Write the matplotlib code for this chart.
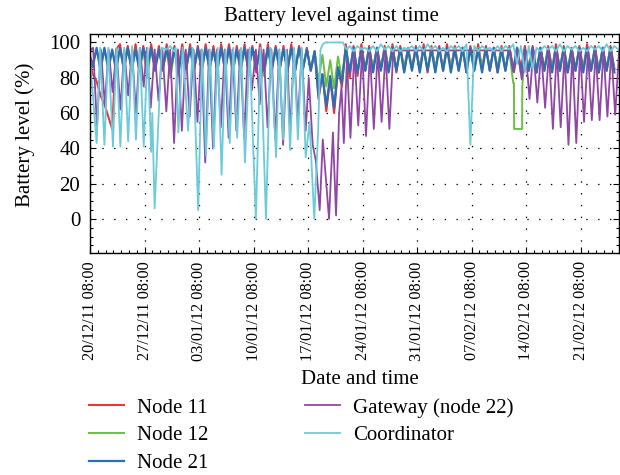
import matplotlib
matplotlib.use("Agg")
import matplotlib.pyplot as plt
import matplotlib.dates as mdates
from matplotlib.ticker import FixedLocator, MultipleLocator
from datetime import datetime, timedelta
import numpy as np

plt.rcParams['font.family'] = ['Liberation Serif', 'DejaVu Serif']
plt.rcParams['lines.scale_dashes'] = False

START = datetime(2011, 12, 20, 8, 0)
WEEK_TICK_DAYS = [0, 7, 14, 21, 28, 35, 42, 49, 56, 63]
X_END_DAY = 67.94

series_labels = ["Node 11", "Node 12", "Node 21", "Gateway (node 22)", "Coordinator"]
series_colors = ["#ee3333", "#6cbf45", "#2a6fb5", "#9146a5", "#6ccbd9"]

# ---- Node 11 (red): daily high (d-0.15) and low (d+0.35), days 0..67
node11_hi = [90, 78, 65, 51, 99, 98, 99, 98, 99, 98,
             99, 98, 99, 99, 98, 99, 98, 99, 99, 98,
             99, 98, 99, 99, 98, 98, 99, 98, 97, 95,
             82, 80, 85, 99, 98, 99, 98, 97, 98, 99,
             98, 97, 98, 99, 98, 98, 99, 98, 97, 98,
             99, 98, 97, 98, 98, 97, 98, 98, 97, 98,
             99, 98, 97, 98, 99, 98, 97, 98]
node11_lo = [82, 70, 58, 96, 84, 85, 84, 83, 85, 84,
             83, 84, 85, 84, 83, 85, 84, 84, 83, 85,
             84, 83, 84, 85, 84, 83, 84, 85, 84, 68,
             61, 60, 75, 80, 81, 84, 84, 85, 84, 83,
             84, 85, 84, 83, 84, 84, 85, 84, 83, 84,
             85, 84, 83, 84, 84, 85, 84, 83, 84, 85,
             84, 83, 84, 85, 84, 83, 84, 85]

# ---- Node 12 (green)
node12_hi = [93, 96, 96, 95, 96, 97, 96, 95, 96, 96,
             95, 96, 96, 97, 96, 96, 95, 96, 96, 96,
             97, 96, 95, 96, 96, 96, 97, 96, 96, 95,
             93, 90, 92, 97, 96, 97, 96, 96, 97, 96,
             96, 97, 96, 96, 97, 96, 96, 97, 96, 96,
             97, 96, 96, 97, 96, 97, 96, 96, 97, 96,
             96, 97, 96, 96, 97, 96, 96, 97]
node12_lo = [88, 86, 85, 87, 86, 85, 86, 80, 86, 85,
             80, 81, 86, 85, 86, 85, 86, 85, 82, 86,
             85, 86, 81, 86, 85, 86, 85, 86, 85, 78,
             75, 74, 80, 84, 83, 85, 86, 85, 86, 85,
             86, 85, 86, 85, 86, 85, 86, 85, 86, 85,
             86, 85, 86, 85, 77, 85, 86, 85, 86, 85,
             86, 85, 86, 85, 86, 85, 86, 85]
# Node 12 step drop (flat segment) in mid February
node12_gap_t = [54.45, 54.47, 55.50, 55.52]
node12_gap_v = [77, 51, 51, 75]

# ---- Node 21 (blue)
node21_hi = [95, 97, 97, 96, 97, 97, 96, 97, 97, 96,
             97, 97, 96, 97, 97, 97, 96, 97, 97, 96,
             97, 97, 96, 97, 97, 96, 97, 97, 96, 95,
             82, 81, 86, 97, 97, 96, 97, 97, 96, 97,
             97, 96, 97, 97, 96, 97, 97, 96, 97, 97,
             96, 97, 97, 96, 97, 97, 96, 97, 97, 96,
             97, 97, 96, 97, 97, 96, 97, 97]
node21_lo = [86, 84, 85, 84, 85, 84, 84, 85, 84, 85,
             84, 83, 85, 84, 84, 85, 84, 84, 85, 84,
             84, 85, 84, 84, 85, 84, 84, 85, 84, 70,
             64, 63, 77, 83, 83, 84, 83, 84, 83, 84,
             83, 84, 83, 84, 83, 84, 83, 84, 83, 84,
             83, 84, 83, 84, 84, 83, 84, 83, 84, 83,
             84, 83, 84, 83, 84, 83, 84, 83]

# ---- Coordinator (cyan): irregular first part (time in days, value)
coord_t1 = [-0.1, 0.85, 1.3, 1.85, 2.35, 2.95, 3.4, 3.9, 4.4, 4.9,
            5.4, 5.9, 6.4, 6.9, 7.4, 7.85, 8.0, 8.3, 9.2, 9.8,
            10.3, 10.8, 11.0, 11.35, 11.9, 12.6, 13.2, 13.9, 14.4, 14.9,
            15.4, 15.9, 16.4, 16.9, 17.4, 17.95, 18.4, 18.9, 19.4, 19.9,
            20.5, 21.3, 21.9, 22.6, 23.2, 23.9, 24.3, 24.8, 25.2, 25.7,
            26.2, 26.7, 27.2, 27.7, 28.2, 28.8, 29.3, 29.6, 29.9, 30.2,
            32.5, 32.8, 33.0]
coord_v1 = [97, 43, 97, 42, 97, 41, 97, 41, 97, 44,
            98, 45, 97, 41, 97, 38, 60, 6, 97, 96,
            98, 95, 97, 49, 97, 50, 97, 5, 96, 36,
            96, 40, 97, 25, 96, 43, 97, 46, 97, 32,
            97, 0, 97, 0, 97, 35, 96, 45, 96, 39,
            97, 45, 97, 35, 55, 0, 50, 96, 99, 100,
            100, 97, 96]
# Coordinator regular second part: days 33..67, high (d+0.35), low (d+0.85)
coord_hi2 = [98, 98, 97, 98, 99, 98, 98, 97, 98, 98,
             99, 98, 97, 98, 98, 99, 98, 98, 97, 98,
             98, 99, 98, 98, 97, 98, 98, 99, 98, 98,
             97, 98, 98, 99, 98]
coord_lo2 = [95, 96, 95, 95, 96, 95, 95, 96, 95, 95,
             96, 95, 95, 96, 95, 42, 95, 96, 95, 95,
             96, 88, 83, 85, 95, 96, 95, 95, 96, 95,
             95, 96, 95, 95, 96]

# ---- Gateway (purple): irregular first part
gw_t1 = [-0.1, 0.4, 0.9, 1.4, 1.9, 2.4, 2.9, 3.4, 3.9, 4.4,
         4.9, 5.4, 5.9, 6.4, 6.9, 7.3, 7.8, 8.3, 8.8, 9.3,
         9.8, 10.3, 10.8, 11.3, 11.8, 12.3, 12.8, 13.3, 13.8, 14.3,
         14.8, 15.3, 15.8, 16.3, 16.8, 17.3, 17.8, 18.3, 18.8, 19.3,
         19.8, 20.3, 20.8, 21.3, 21.8, 22.3, 22.8, 23.3, 23.8, 24.3,
         24.8, 25.3, 25.7, 26.2, 26.7, 27.2, 27.7, 28.1, 28.6, 29.0,
         29.5, 29.9, 30.7, 31.2, 31.6, 32.0, 32.3, 32.6, 33.0]
gw_v1 = [95, 97, 52, 96, 65, 96, 72, 96, 62, 96,
         70, 96, 60, 97, 75, 97, 63, 96, 67, 96,
         61, 96, 43, 96, 50, 96, 58, 96, 55, 96,
         32, 96, 40, 96, 52, 96, 46, 96, 50, 96,
         46, 96, 73, 96, 65, 96, 52, 96, 45, 96,
         42, 96, 49, 96, 55, 96, 50, 80, 42, 33,
         5, 45, 0, 49, 2, 60, 75, 43, 90]
# Gateway regular second part: days 33..67, low (d+0.45), high (d+0.95)
gw_lo2 = [46, 53, 47, 51, 55, 51, 95.5, 95.5, 95.5, 95.5,
          95.5, 95.5, 95.5, 95.5, 95.5, 95.5, 95.5, 95.5, 95.5, 95.5,
          95.5, 83, 79, 68, 66, 63, 51, 52, 42, 43,
          55, 56, 56, 58, 59]
gw_hi2 = [95, 95, 95, 95, 95, 95.5, 95.5, 95.5, 95.5, 95.5,
          95.5, 95.5, 95.5, 95.5, 95.5, 95.5, 95.5, 95.5, 95.5, 95.5,
          95.5, 95, 95, 96, 95, 95, 96, 95, 95, 96,
          95, 95, 96, 95, 95]


def daily(first_day, lo, hi, lo_phase, hi_phase):
    t, v = [], []
    for i, (a, b) in enumerate(zip(lo, hi)):
        d = first_day + i
        t += [d + hi_phase, d + lo_phase]
        v += [b, a]
    t = np.array(t, float)
    v = np.array(v, float)
    o = np.argsort(t, kind="stable")
    return t[o], v[o]


def merge(*parts):
    t = np.concatenate([p[0] for p in parts])
    v = np.concatenate([p[1] for p in parts])
    o = np.argsort(t, kind="stable")
    return t[o], v[o]


t11, v11 = daily(0, node11_lo, node11_hi, 0.35, -0.15)
t12, v12 = daily(0, node12_lo, node12_hi, 0.35, -0.15)
keep = (t12 < node12_gap_t[0]) | (t12 > node12_gap_t[-1])
t12, v12 = merge((t12[keep], v12[keep]),
                 (np.array(node12_gap_t), np.array(node12_gap_v, float)))
t21, v21 = daily(0, node21_lo, node21_hi, 0.35, -0.15)
tc, vc = merge((np.array(coord_t1), np.array(coord_v1, float)),
               daily(33, coord_lo2, coord_hi2, 0.85, 0.35))
tg, vg = merge((np.array(gw_t1), np.array(gw_v1, float)),
               daily(33, gw_lo2, gw_hi2, 0.45, 0.95))

x0 = mdates.date2num(START)
series = [(t11, v11), (t12, v12), (t21, v21), (tg, vg), (tc, vc)]
widths = [1.5, 1.4, 1.6, 1.3, 1.3]

fig = plt.figure(figsize=(6.2, 4.75), dpi=100)
ax = fig.add_axes([90 / 620, 1 - 253 / 475, 529 / 620, 219 / 475])

for (t, v), lab, col, w in zip(series, series_labels, series_colors, widths):
    ax.plot(x0 + t, v, color=col, lw=w, label=lab, solid_joinstyle='round')

ax.set_xlim(x0, x0 + X_END_DAY)
ax.set_ylim(-19.3, 104.8)

major = [mdates.date2num(START + timedelta(days=d)) for d in WEEK_TICK_DAYS]
minor = [mdates.date2num(START + timedelta(days=d)) for d in range(0, 68)]
ax.xaxis.set_major_locator(FixedLocator(major))
ax.xaxis.set_minor_locator(FixedLocator(minor))
ax.xaxis.set_major_formatter(mdates.DateFormatter('%d/%m/%y %H:%M'))
ax.yaxis.set_major_locator(FixedLocator([0, 20, 40, 60, 80, 100]))
ax.yaxis.set_minor_locator(MultipleLocator(5))

ax.tick_params(which='both', direction='in', top=True, right=True, width=0.8)
ax.tick_params(which='major', length=4)
ax.tick_params(which='minor', length=2.2)
ax.tick_params(axis='x', which='major', labelsize=11.7, pad=6, labelrotation=90)
ax.tick_params(axis='y', which='major', labelsize=15, pad=7)
for lbl in ax.get_xticklabels():
    lbl.set_va('top')
for sp in ax.spines.values():
    sp.set_linewidth(1.0)

ax.grid(True, which='major', color='black', lw=0.9, linestyle=(0, (1.0, 7.5)))

fig.text(331 / 620, 1 - 16 / 475, "Battery level against time", ha='center',
         va='center', fontsize=15)
fig.text(25 / 620, 1 - 135 / 475, "Battery level (%)", rotation=90,
         ha='center', va='center', fontsize=15)
fig.text(360 / 620, 1 - 380 / 475, "Date and time", ha='center', va='center',
         fontsize=15)

handles, labels = ax.get_legend_handles_labels()
fig.legend(handles, labels, loc='upper left', bbox_to_anchor=(89 / 620, 1 - 398 / 475),
           ncol=2, frameon=False, fontsize=15, borderaxespad=0, borderpad=0,
           handlelength=1.7, handletextpad=0.62, columnspacing=4.6, labelspacing=0.39)

fig.savefig("out.png", dpi=100)
